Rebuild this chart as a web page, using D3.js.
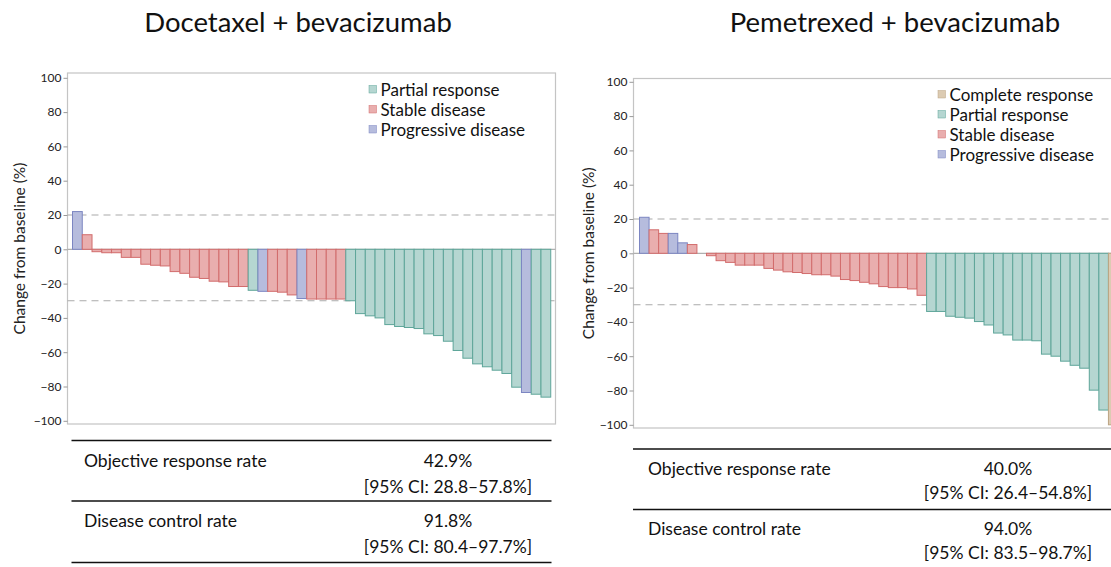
<!DOCTYPE html>
<html>
<head>
<meta charset="utf-8">
<script src="https://cdn.jsdelivr.net/npm/d3@7"></script>
<style>
  html, body { margin: 0; padding: 0; background: #fff; overflow: hidden; }
  svg { display: block; font-family: Lato, "Noto Sans", sans-serif; }
</style>
</head>
<body>
<div id="chart"></div>
<script>
// values (% change from baseline), one per patient
const docetaxelValues = [22, 8.5, -1.4, -2, -2, -4.7, -4.7, -8.7, -9.3, -9.7, -13, -14, -16.3, -17, -18.6, -19, -21.7, -21.7,
  -23.9, -24.5, -24.5, -25, -26.6, -28.7, -29, -29, -29, -29, -30, -37.5, -38.8, -40, -43.9, -45, -45.6, -46.2, -49.3,
  -50.3, -53.6, -59, -63.5, -66.8, -68.5, -70.5, -72.4, -80.4, -83.5, -84.5, -86.2];
const docetaxelResponse = ["PD", "SD", "SD", "SD", "SD", "SD", "SD", "SD", "SD", "SD", "SD", "SD", "SD", "SD", "SD", "SD", "SD", "SD",
  "PR", "PD", "SD", "SD", "SD", "PD", "SD", "SD", "SD", "SD", "PR", "PR", "PR", "PR", "PR", "PR", "PR", "PR", "PR",
  "PR", "PR", "PR", "PR", "PR", "PR", "PR", "PR", "PR", "PD", "PR", "PR"];

const pemetrexedValues = [21, 13.7, 11.6, 11.6, 6.1, 5.1, 0, -1.4, -4.3, -5.3, -6.9, -6.9, -6.9, -8.8, -9.8, -10.8, -11.2, -11.8,
  -12.5, -12.5, -13.3, -15.3, -15.9, -16.9, -17.8, -19.4, -20, -20, -20.8, -24.5, -33.9, -33.9, -36.7, -37.3, -37.8, -39.8,
  -41.8, -46.5, -47.6, -50.6, -50.6, -51, -58.8, -60, -62.9, -65.3, -67, -79.8, -91.4, -100];
const pemetrexedResponse = ["PD", "SD", "SD", "PD", "PD", "SD", "SD", "SD", "SD", "SD", "SD", "SD", "SD", "SD", "SD", "SD", "SD", "SD",
  "SD", "SD", "SD", "SD", "SD", "SD", "SD", "SD", "SD", "SD", "SD", "SD", "PR", "PR", "PR", "PR", "PR", "PR",
  "PR", "PR", "PR", "PR", "PR", "PR", "PR", "PR", "PR", "PR", "PR", "PR", "PR", "CR"];

const yTicks = [100, 80, 60, 40, 20, 0, -20, -40, -60, -80, -100];
const thresholds = [20, -30];

const responseCodes = ["CR", "PR", "SD", "PD"];
const responseNames = ["Complete response", "Partial response", "Stable disease", "Progressive disease"];
const responseFill = ["#dccbb2", "#b5d6d1", "#e9aeae", "#b6bcdd"];
const responseStroke = ["#bca483", "#5ea599", "#d26c6c", "#7c86c2"];

const docetaxelLegend = ["PR", "SD", "PD"];
const pemetrexedLegend = ["CR", "PR", "SD", "PD"];

const tableLabels = ["Objective response rate", "Disease control rate"];
const docetaxelRates = ["42.9%", "91.8%"];
const docetaxelCIs = ["[95% CI: 28.8\u201357.8%]", "[95% CI: 80.4\u201397.7%]"];
const pemetrexedRates = ["40.0%", "94.0%"];
const pemetrexedCIs = ["[95% CI: 26.4\u201354.8%]", "[95% CI: 83.5\u201398.7%]"];

const width = 1111;
const height = 567;

const fillOf = d3.scaleOrdinal(responseCodes, responseFill);
const strokeOf = d3.scaleOrdinal(responseCodes, responseStroke);
const nameOf = d3.scaleOrdinal(responseCodes, responseNames);

const svg = d3.select("#chart").append("svg")
  .attr("width", width)
  .attr("height", height);

const panels = [
  {
    title: "Docetaxel + bevacizumab", titleX: 298,
    values: docetaxelValues, response: docetaxelResponse, legend: docetaxelLegend,
    frame: { left: 67.5, right: 555.5, top: 73, bottom: 424 }, zeroY: 249.3, barPad: 5, barW: 9.76,
    legendX: 369, legendY: 89, axisLabelX: 19,
    table: { left: 71.5, right: 551.5, top: 440.5, labelX: 84, valueX: 448, rates: docetaxelRates, cis: docetaxelCIs,
      rowTop: [460, 520], ciOff: 26.5, mid: 501, bottom: 562.5 }
  },
  {
    title: "Pemetrexed + bevacizumab", titleX: 895,
    values: pemetrexedValues, response: pemetrexedResponse, legend: pemetrexedLegend,
    frame: { left: 633.5, right: 1123, top: 78.5, bottom: 428 }, zeroY: 253.3, barPad: 6, barW: 9.57,
    legendX: 938, legendY: 94, axisLabelX: 588,
    table: { left: 633, right: 1130, top: 449, labelX: 648, valueX: 1008, rates: pemetrexedRates, cis: pemetrexedCIs,
      rowTop: [468, 528], ciOff: 24, mid: 509.5, bottom: 575 }
  }
];

const pxPerUnit = 1.715;

panels.forEach(p => {
  const g = svg.append("g");
  const f = p.frame;

  const y = d3.scaleLinear()
    .domain([-100, 100])
    .range([p.zeroY + 100 * pxPerUnit, p.zeroY - 100 * pxPerUnit]);

  const x = d3.scaleBand()
    .domain(d3.range(p.values.length))
    .range([f.left + p.barPad, f.left + p.barPad + p.barW * p.values.length])
    .paddingInner(0).paddingOuter(0);

  // title
  g.append("text")
    .attr("x", p.titleX).attr("y", 32)
    .attr("text-anchor", "middle")
    .attr("font-size", 27.5)
    .attr("fill", "#111")
    .text(p.title);

  // plot frame
  g.append("rect")
    .attr("x", f.left).attr("y", f.top)
    .attr("width", f.right - f.left).attr("height", f.bottom - f.top)
    .attr("fill", "none").attr("stroke", "#c4c4c4").attr("stroke-width", 1.2);

  // y axis
  const yAxis = g.append("g")
    .attr("transform", `translate(${f.left},0)`)
    .call(d3.axisLeft(y).tickValues(yTicks).tickSize(4).tickPadding(2).tickFormat(d3.format("d")));
  yAxis.select(".domain").remove();
  yAxis.selectAll(".tick line").attr("stroke", "#999");
  yAxis.selectAll(".tick text").attr("font-size", 12).attr("fill", "#222")
    .attr("font-family", "Lato, 'Noto Sans', sans-serif");

  g.append("text")
    .attr("transform", `translate(${p.axisLabelX},${(f.top + f.bottom) / 2}) rotate(-90)`)
    .attr("text-anchor", "middle")
    .attr("dominant-baseline", "central")
    .attr("font-size", 15.5)
    .attr("fill", "#222")
    .text("Change from baseline (%)");

  // zero line and threshold lines
  g.append("line")
    .attr("x1", f.left).attr("x2", f.right)
    .attr("y1", y(0)).attr("y2", y(0))
    .attr("stroke", "#b0b0b0").attr("stroke-width", 1.2);

  g.selectAll(".thr").data(thresholds).enter().append("line")
    .attr("class", "thr")
    .attr("x1", f.left).attr("x2", f.right)
    .attr("y1", d => y(d)).attr("y2", d => y(d))
    .attr("stroke", "#aaa").attr("stroke-width", 1.2)
    .attr("stroke-dasharray", "7,5");

  // bars
  g.selectAll(".bar").data(p.values).enter().append("rect")
    .attr("class", "bar")
    .attr("x", (d, i) => x(i))
    .attr("width", x.bandwidth())
    .attr("y", d => y(Math.max(0, d)))
    .attr("height", d => Math.abs(y(d) - y(0)))
    .attr("fill", (d, i) => fillOf(p.response[i]))
    .attr("stroke", (d, i) => strokeOf(p.response[i]))
    .attr("stroke-width", 1);

  // legend
  const lg = g.append("g").attr("transform", `translate(${p.legendX},${p.legendY})`);
  const items = lg.selectAll(".item").data(p.legend).enter().append("g")
    .attr("class", "item")
    .attr("transform", (d, i) => `translate(0,${i * 20})`);
  items.append("rect")
    .attr("x", 0).attr("y", -3.5).attr("width", 7.5).attr("height", 7.5)
    .attr("fill", d => fillOf(d)).attr("stroke", d => strokeOf(d)).attr("stroke-width", 0.5);
  items.append("text")
    .attr("x", 11.5).attr("y", 0)
    .attr("dominant-baseline", "central")
    .attr("font-size", 17).attr("fill", "#111")
    .text(d => nameOf(d));

  // response table
  const t = p.table;
  g.selectAll(".rule").data([t.top, t.mid, t.bottom]).enter().append("line")
    .attr("class", "rule")
    .attr("x1", t.left).attr("x2", t.right)
    .attr("y1", d => d).attr("y2", d => d)
    .attr("stroke", "#111").attr("stroke-width", 1.4);

  tableLabels.forEach((label, i) => {
    g.append("text")
      .attr("x", t.labelX).attr("y", t.rowTop[i])
      .attr("dominant-baseline", "central")
      .attr("font-size", 17.5).attr("fill", "#111")
      .text(label);
    g.append("text")
      .attr("x", t.valueX).attr("y", t.rowTop[i])
      .attr("text-anchor", "middle").attr("dominant-baseline", "central")
      .attr("font-size", 17.5).attr("fill", "#111")
      .text(t.rates[i]);
    g.append("text")
      .attr("x", t.valueX).attr("y", t.rowTop[i] + t.ciOff)
      .attr("text-anchor", "middle").attr("dominant-baseline", "central")
      .attr("font-size", 17.5).attr("fill", "#111")
      .text(t.cis[i]);
  });
});
</script>
</body>
</html>
